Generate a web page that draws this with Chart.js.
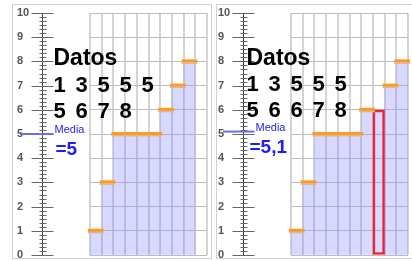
<!DOCTYPE html>
<html><head><meta charset="utf-8">
<script src="https://cdn.jsdelivr.net/npm/chart.js@4/dist/chart.umd.min.js"></script>
<style>
html,body{margin:0;padding:0;background:#fff;overflow:hidden;}
#wrap{position:relative;width:412px;height:261px;}
.box{position:absolute;top:0;height:261px;}
</style></head><body>
<div id="wrap">
<div class="box" style="left:0;width:212px"><canvas id="cA" width="212" height="261"></canvas></div>
<div class="box" style="left:212px;width:200px"><canvas id="cB" width="200" height="261"></canvas></div>
</div>
<script>
// ---- data ----
const categories = ['1','2','3','4','5','6','7','8','9','10'];
const datosA = [1, 3, 5, 5, 5, 5, 6, 7, 8];
const datosB = [1, 3, 5, 5, 5, 5, 6, 6, 7, 8];
const newIndexB = 7;            // the added value (outlined in red)
const yTickValues = [0,1,2,3,4,5,6,7,8,9,10];
const titleText = 'Datos';
const meanText = 'Media';

function meanOf(arr){ return arr.reduce((a,b)=>a+b,0)/arr.length; }
function fmt(v){ return String(Math.round(v*10)/10).replace('.', ','); }

function makePlugin(cfg){
  return {
    id: 'decor',
    beforeDatasetsDraw(chart){
      const ctx = chart.ctx, ys = chart.scales.y, ca = chart.chartArea;
      const ax = Math.round(ca.left - 48) + 0.5;
      ctx.save();
      // outer dotted frame
      ctx.strokeStyle = '#a0a0a0'; ctx.lineWidth = 1; ctx.setLineDash([1,1]);
      ctx.strokeRect(cfg.frame[0]+0.5, cfg.frame[1]+0.5, cfg.frame[2], cfg.frame[3]);
      ctx.setLineDash([]);
      // ruler
      const top = ys.getPixelForValue(ys.max), bot = ys.getPixelForValue(ys.min);
      ctx.strokeStyle = '#444'; ctx.lineWidth = 1;
      ctx.beginPath(); ctx.moveTo(ax, top); ctx.lineTo(ax, bot); ctx.stroke();
      ctx.strokeStyle = '#666';
      yTickValues.forEach(v => {
        const py = Math.round(ys.getPixelForValue(v)) + 0.5;
        ctx.beginPath(); ctx.moveTo(ax-11, py); ctx.lineTo(ax+11, py); ctx.stroke();
      });
      ctx.strokeStyle = '#666';
      for (let v = ys.min; v < ys.max; v++) {
        for (let k = 1; k < 6; k++) {
          const py = Math.round(ys.getPixelForValue(v + k/6)) + 0.5;
          ctx.beginPath(); ctx.moveTo(ax-3, py); ctx.lineTo(ax+4, py); ctx.stroke();
        }
      }
      // mean line
      const m = meanOf(cfg.data);
      const pm = ys.getPixelForValue(m);
      ctx.strokeStyle = '#6c6cf0'; ctx.lineWidth = 2;
      ctx.beginPath(); ctx.moveTo(cfg.meanLineX, pm); ctx.lineTo(ax+11, pm); ctx.stroke();
      ctx.restore();
    },
    afterDatasetsDraw(chart){
      const ctx = chart.ctx, ys = chart.scales.y, ca = chart.chartArea;
      const ax = Math.round(ca.left - 48) + 0.5;
      const meta = chart.getDatasetMeta(0);
      ctx.save();
      // orange caps
      meta.data.forEach((bar, i) => {
        if (cfg.data[i] == null || i === cfg.highlight) return;
        const w = bar.width;
        ctx.fillStyle = 'rgb(210,185,165)';
        ctx.fillRect(bar.x - w/2 - 2, bar.y + 1, w + 4, 1.5);
        ctx.fillStyle = 'rgb(255,155,25)';
        ctx.fillRect(bar.x - w/2 - 2, bar.y - 2, w + 4, 3);
      });
      // Datos text
      ctx.fillStyle = '#000';
      ctx.textBaseline = 'alphabetic'; ctx.textAlign = 'left';
      ctx.font = 'bold 23px "Liberation Sans", Arial, sans-serif';
      const tx = ax + cfg.textDx;
      ctx.fillText(titleText, tx, cfg.rows[0]);
      ctx.font = 'bold 22px "Liberation Sans", Arial, sans-serif';
      const row1 = cfg.data.slice(0,5), row2 = cfg.data.slice(5);
      row1.forEach((v,i) => ctx.fillText(String(v), tx + i*22, cfg.rows[1]));
      row2.forEach((v,i) => ctx.fillText(String(v), tx + i*22, cfg.rows[2]));
      // Media text
      const m = meanOf(cfg.data);
      const pm = ys.getPixelForValue(m);
      ctx.fillStyle = '#2323e6';
      ctx.font = '11px "Liberation Sans", Arial, sans-serif';
      ctx.fillText(meanText, ax + 12, pm - 1);
      ctx.fillStyle = '#1c1cff';
      ctx.font = 'bold 19px "Liberation Sans", Arial, sans-serif';
      ctx.fillText('=' + fmt(m), ax + cfg.meanDx, pm + 21);
      ctx.restore();
    }
  };
}

function makeChart(id, data, highlight, cfg){
  const padded = categories.map((c,i) => data[i] === undefined ? null : data[i]);
  cfg.data = data; cfg.highlight = highlight;
  return new Chart(document.getElementById(id), {
    type: 'bar',
    data: {
      labels: categories,
      datasets: [{
        data: padded,
        backgroundColor: 'rgba(150,150,255,0.36)',
        borderColor: ctx => ctx.dataIndex === highlight ? 'rgb(245,30,30)' : 'rgba(0,0,0,0)',
        borderWidth: ctx => ctx.dataIndex === highlight ? 2 : 0,
        borderSkipped: false,
        barPercentage: 1,
        categoryPercentage: 1
      }]
    },
    options: {
      responsive: false,
      animation: false,
      devicePixelRatio: 1,
      layout: { padding: { left: cfg.padLeft, right: cfg.padRight, top: 13, bottom: 6 } },
      plugins: { legend: { display: false }, tooltip: { enabled: false } },
      scales: {
        x: {
          type: 'category',
          ticks: { display: false },
          border: { display: false },
          grid: { color: '#d4d4d4', lineWidth: 2, drawTicks: false, offset: true }
        },
        y: {
          min: 0, max: 10,
          afterBuildTicks: s => { s.ticks = yTickValues.map(v => ({ value: v })); },
          afterFit: s => { s.width = cfg.axisWidth; },
          ticks: {
            crossAlign: 'far', padding: 0,
            color: '#555',
            font: { family: '"Liberation Sans", Arial, sans-serif', size: 11, weight: 'bold', lineHeight: 1 }
          },
          border: { display: false },
          grid: { color: '#bdbdbd', lineWidth: 1, drawTicks: false }
        }
      }
    },
    plugins: [makePlugin(cfg)]
  });
}

makeChart('cA', datosA, -1, {
  padLeft: 17, axisWidth: 73, padRight: 5,
  frame: [12, 4, 199, 254], meanLineX: 20,
  textDx: 11, meanDx: 13, rows: [65, 92, 118]
});
makeChart('cB', datosB, newIndexB, {
  padLeft: 6, axisWidth: 73, padRight: 4,
  frame: [4, 4, 210, 254], meanLineX: 11,
  textDx: 3, meanDx: 6, rows: [65, 91, 117]
});
</script>
</body></html>
